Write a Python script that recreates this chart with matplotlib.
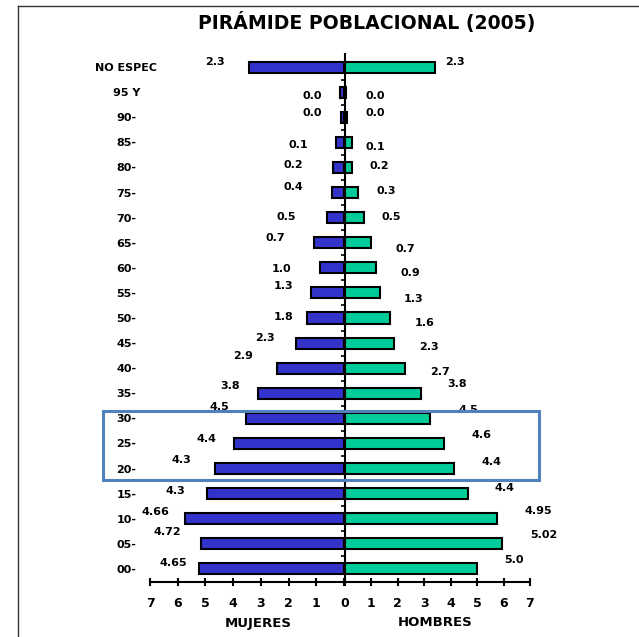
import numpy as np
import matplotlib
matplotlib.use("Agg")
import matplotlib.pyplot as plt
from matplotlib.patches import Rectangle
from matplotlib.lines import Line2D

# Step 1: data
grupos = ["NO ESPEC", "95 Y", "90-", "85-", "80-", "75-", "70-", "65-", "60-", "55-",
          "50-", "45-", "40-", "35-", "30-", "25-", "20-", "15-", "10-", "05-", "00-"]
mujeres = [3.43, 0.15, 0.12, 0.30, 0.40, 0.43, 0.62, 1.07, 0.88, 1.20,
           1.34, 1.75, 2.42, 3.12, 3.54, 3.98, 4.67, 4.96, 5.74, 5.17, 5.23]
hombres = [3.43, 0.05, 0.07, 0.29, 0.29, 0.51, 0.73, 1.00, 1.17, 1.32,
           1.71, 1.87, 2.26, 2.87, 3.23, 3.77, 4.14, 4.66, 5.77, 5.96, 4.99]
etiq_muj = ["2.3", "0.0", "0.0", "0.1", "0.2", "0.4", "0.5", "0.7", "1.0", "1.3",
            "1.8", "2.3", "2.9", "3.8", "4.5", "4.4", "4.3", "4.3", "4.66", "4.72", "4.65"]
etiq_hom = ["2.3", "0.0", "0.0", "0.1", "0.2", "0.3", "0.5", "0.7", "0.9", "1.3",
            "1.6", "2.3", "2.7", "3.8", "4.5", "4.6", "4.4", "4.4", "4.95", "5.02", "5.0"]
ticks_muj = ["", "1", "2", "3", "4", "5", "6", "7"]

# where the value labels sit (x in data units, y shift in pixels)
pos_muj_x = [5.02, 1.49, 1.49, 1.99, 2.20, 2.20, 2.42, 2.85, 2.61, 2.53,
             2.53, 3.19, 4.00, 4.45, 4.87, 5.34, 6.22, 6.43, 7.30, 6.88, 6.64]
pos_muj_dy = [-5, 4, -4, 3, -2, -6, -1, -5, 1, -7, -1, -5, -12, -7, -11, -4.5, -8.6, -3, -7, -12, -6]
pos_hom_x = [3.81, 0.80, 0.80, 0.80, 0.95, 1.21, 1.40, 1.92, 2.11, 2.24,
             2.65, 2.80, 3.22, 3.89, 4.29, 4.79, 5.17, 5.67, 6.80, 7.00, 6.01]
pos_hom_dy = [-5, 4, -4, 5, -1, -2, -1, 6, 5, 6, 5, 4, 4, -9, -8, -8.5, -7, -5.4, -8, -9, -9]

AZUL = "#3333CC"
VERDE = "#00CC99"

W, H = 639, 637
fig = plt.figure(figsize=(W / 100, H / 100), dpi=100)

row_px = 25.1
y = np.arange(len(grupos))
top_px, bot_px = 54.5, 581.5

ax_m = fig.add_axes([150 / W, 1 - bot_px / H, 194 / W, (bot_px - top_px) / H])
ax_h = fig.add_axes([344.7 / W, 1 - bot_px / H, 185.3 / W, (bot_px - top_px) / H])

# Step 2: bars
ax_m.barh(y, mujeres, height=0.44, color=AZUL, edgecolor="black", linewidth=1.5)
ax_h.barh(y, hombres, height=0.44, color=VERDE, edgecolor="black", linewidth=1.5)

for ax in (ax_m, ax_h):
    ax.set_ylim(len(grupos) - 0.5, -0.5)
    ax.set_xticks(range(0, 8))
    ax.spines["top"].set_visible(False)
    ax.spines["right"].set_visible(False)
    ax.spines["bottom"].set_linewidth(1.5)
    ax.tick_params(axis="x", direction="inout", length=6, width=1.5, pad=8)
    ax.patch.set_alpha(0)

ax_m.set_xlim(7, 0)
ax_h.set_xlim(0, 7)
ax_m.set_xticklabels(ticks_muj)
for ax in (ax_m, ax_h):
    for t in ax.get_xticklabels():
        t.set_fontweight("bold")
        t.set_fontsize(9)
ax_m.spines["left"].set_visible(False)
ax_h.spines["left"].set_linewidth(1.5)

# age group names on the left
ax_m.set_yticks(y)
ax_m.set_yticklabels(grupos, fontsize=8, fontweight="bold", ha="center")
ax_m.tick_params(axis="y", length=0, pad=17)

ax_h.set_yticks([])
ax_h.set_yticks(y[:-1] + 0.5, minor=True)
ax_h.tick_params(axis="y", which="minor", length=3, width=1.2, direction="out")

# Step 3: value labels
for i in range(len(grupos)):
    ax_m.text(pos_muj_x[i], i + pos_muj_dy[i] / row_px, etiq_muj[i], ha="left", va="center",
              fontsize=8, fontweight="bold", clip_on=False)
    ax_h.text(pos_hom_x[i], i + pos_hom_dy[i] / row_px, etiq_hom[i], ha="left", va="center",
              fontsize=8, fontweight="bold", clip_on=False)

# titles
fig.text(367 / W, 1 - 22 / H, "PIRÁMIDE POBLACIONAL (2005)", ha="center", va="center",
         fontsize=13.6, fontweight="bold")
fig.text(258 / W, 1 - 623 / H, "MUJERES", ha="center", va="center", fontsize=9.5, fontweight="bold")
fig.text(435 / W, 1 - 623 / H, "HOMBRES", ha="center", va="center", fontsize=9.5, fontweight="bold")

# highlight box round the 20-34 groups
fig.add_artist(Rectangle((103 / W, 1 - 480 / H), (539 - 103) / W, (480 - 410.7) / H,
                         transform=fig.transFigure, fill=False, edgecolor="#4F81BD", linewidth=2.2))

# page frame
fig.add_artist(Line2D([18 / W, 1], [1 - 6 / H, 1 - 6 / H], transform=fig.transFigure, color="#333333", lw=1))
fig.add_artist(Line2D([18 / W, 18 / W], [0, 1 - 6 / H], transform=fig.transFigure, color="#333333", lw=1))

fig.savefig("out.png", dpi=100)
